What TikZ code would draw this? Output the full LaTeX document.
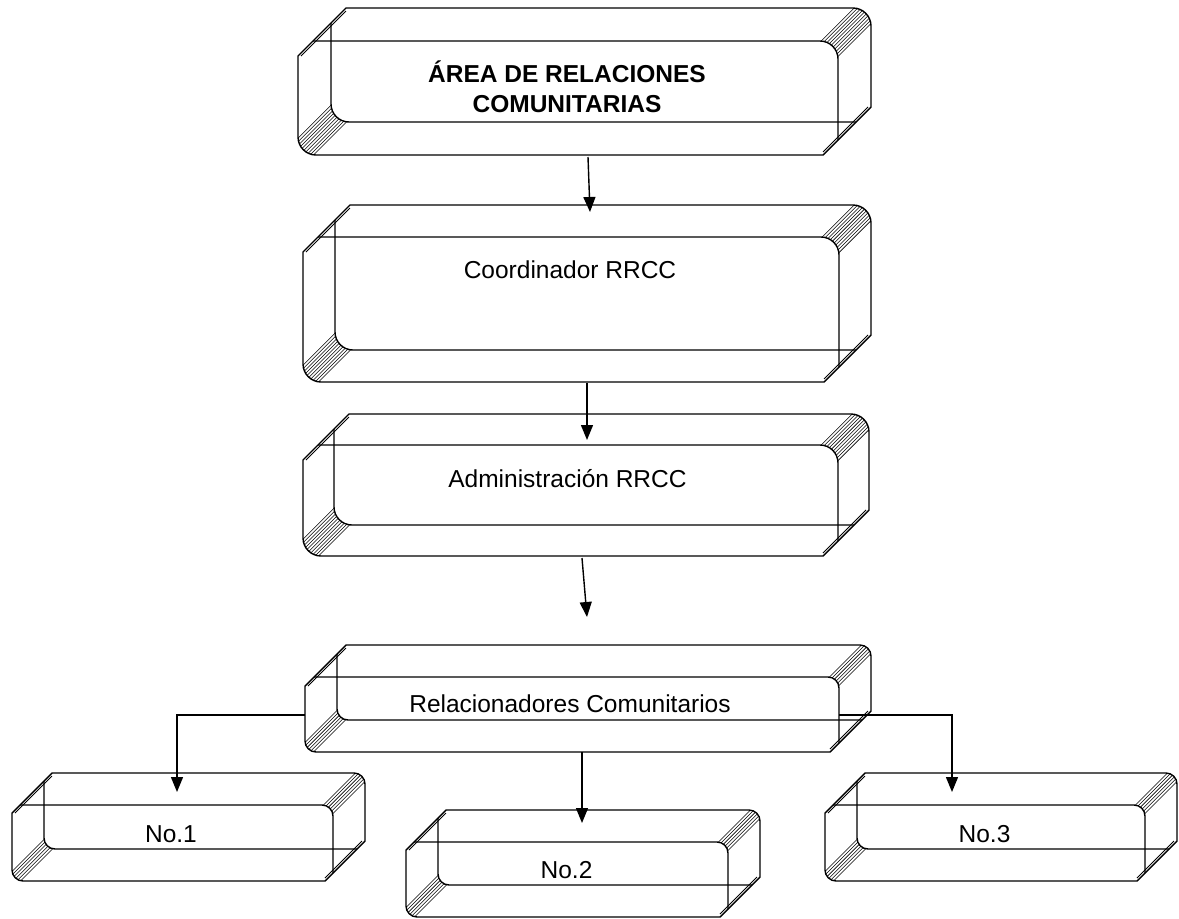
\documentclass[tikz,border=0pt]{standalone}
\usepackage{fontspec}
\setmainfont{Liberation Sans}
\usetikzlibrary{arrows.meta}

% Bevelled 3-D box: front face [x0,x1]x[y0,y1] (y grows downwards),
% back face shifted by (d,-d); r = corner radius, c = chamfer offset.
\newcommand\bevbox[7]{%
  \begin{scope}
    \pgfmathsetmacro\xA{#1}\pgfmathsetmacro\yA{#2}%
    \pgfmathsetmacro\xB{#3}\pgfmathsetmacro\yB{#4}%
    \pgfmathsetmacro\dd{#5}\pgfmathsetmacro\rr{#6}\pgfmathsetmacro\cc{#7}%
    \pgfmathsetmacro\kk{0.448*\rr}%
    % hatched band, top right corner
    \begin{scope}
      \clip ({\xB-\rr},\yA) .. controls ({\xB-\kk},\yA) and (\xB,{\yA+\kk}) .. (\xB,{\yA+\rr})
        -- ({\xB+\dd},{\yA-\dd+\rr})
        .. controls ({\xB+\dd},{\yA-\dd+\kk}) and ({\xB+\dd-\kk},{\yA-\dd}) .. ({\xB+\dd-\rr},{\yA-\dd})
        -- cycle;
      \foreach \t in {-12,-10.2,...,12}
        \draw[hatch] ({\xB-\rr+\t-60},{\yA+\rr+\t+60}) -- ({\xB-\rr+\t+60},{\yA+\rr+\t-60});
    \end{scope}
    % hatched band, bottom left corner
    \begin{scope}
      \clip (\xA,{\yB-\rr}) .. controls (\xA,{\yB-\kk}) and ({\xA+\kk},\yB) .. ({\xA+\rr},\yB)
        -- ({\xA+\dd+\rr},{\yB-\dd})
        .. controls ({\xA+\dd+\kk},{\yB-\dd}) and ({\xA+\dd},{\yB-\dd-\kk}) .. ({\xA+\dd},{\yB-\dd-\rr})
        -- cycle;
      \foreach \t in {-12,-10.2,...,12}
        \draw[hatch] ({\xA+\rr+\t-60},{\yB-\rr+\t+60}) -- ({\xA+\rr+\t+60},{\yB-\rr+\t-60});
    \end{scope}
    % outline
    \draw[edge] (\xA,{\yA+\cc}) -- ({\xA+\dd+\cc},{\yA-\dd})
      -- ({\xB+\dd-\rr},{\yA-\dd})
      .. controls ({\xB+\dd-\kk},{\yA-\dd}) and ({\xB+\dd},{\yA-\dd+\kk}) .. ({\xB+\dd},{\yA-\dd+\rr})
      -- ({\xB+\dd},{\yB-\dd-\cc}) -- ({\xB-\cc},\yB)
      -- ({\xA+\rr},\yB)
      .. controls ({\xA+\kk},\yB) and (\xA,{\yB-\kk}) .. (\xA,{\yB-\rr})
      -- cycle;
    % thin bevels on the two edge-on corners
    \draw[thinedge] ({\xA+3},{\yA+\cc}) -- ({\xA+\dd+\cc},{\yA-\dd+3});
    \draw[thinedge] ({\xB+\dd-3},{\yB-\dd-\cc}) -- ({\xB-\cc},{\yB-3});
    % front face: top and right edges
    \draw[edge] ({\xA+\cc},\yA) -- ({\xB-\rr},\yA)
      .. controls ({\xB-\kk},\yA) and (\xB,{\yA+\kk}) .. (\xB,{\yA+\rr})
      -- (\xB,{\yB-\cc});
    % back face: left and bottom edges
    \draw[edge] ({\xA+\dd},{\yA-\dd+\cc}) -- ({\xA+\dd},{\yB-\dd-\rr})
      .. controls ({\xA+\dd},{\yB-\dd-\kk}) and ({\xA+\dd+\kk},{\yB-\dd}) .. ({\xA+\dd+\rr},{\yB-\dd})
      -- ({\xB+\dd-\cc},{\yB-\dd});
  \end{scope}}

\begin{document}
\begin{tikzpicture}[x=1pt,y=-1pt,
  edge/.style={line width=1.4pt,line join=round},
  thinedge/.style={line width=1pt},
  hatch/.style={line width=0.55pt},
  label/.style={anchor=base,inner sep=0pt,font=\fontsize{24.5}{28}\selectfont},
  boldlabel/.style={label,font=\fontsize{24.5}{28}\selectfont\bfseries},
  link/.style={line width=1.4pt},
  arrowlink/.style={link,-{Triangle[width=12pt,length=15pt]}}]
  \useasboundingbox (0,0) rectangle (1179,919);

  % boxes
  \bevbox{298}{41}{838}{155}{33}{18}{15}
  \bevbox{303}{237}{839}{382}{32}{18}{15}
  \bevbox{303}{445}{838}{556}{31}{18}{15}
  \bevbox{305}{677}{839}{752}{32}{11}{9}
  \bevbox{12}{805}{333}{881}{32}{11}{8}
  \bevbox{406}{842}{728}{917}{32}{11}{8}
  \bevbox{825}{805}{1145}{881}{32}{11}{8}

  % labels
  \node[boldlabel] (areaA) at (567,82) {ÁREA DE RELACIONES};
  \node[boldlabel] (areaB) at (567,112) {COMUNITARIAS};
  \node[label] (coord) at (570,278) {Coordinador RRCC};
  \node[label] (admin) at (567.5,487) {Administración RRCC};
  \node[label] (rel) at (570,712) {Relacionadores Comunitarios};
  \node[label] (no1) at (171,842) {No.1};
  \node[label] (no2) at (566.5,878) {No.2};
  \node[label] (no3) at (984.5,842) {No.3};

  % connector end points
  \coordinate (areaOut) at (588,157);
  \coordinate (coordIn) at (590,212);
  \coordinate (coordOut) at (587,383);
  \coordinate (adminIn) at (587,440);
  \coordinate (adminOut) at (582,558);
  \coordinate (relIn) at (587,617);
  \coordinate (relLeft) at (305,715);
  \coordinate (relRight) at (839,715);
  \coordinate (relOut) at (582,752);
  \coordinate (noA) at (177,792);
  \coordinate (noB) at (582,823);
  \coordinate (noC) at (952,792);

  % connectors
  \draw[arrowlink] (areaOut) -- (coordIn);
  \draw[arrowlink] (coordOut) -- (adminIn);
  \draw[arrowlink] (adminOut) -- (relIn);
  \draw[arrowlink] (relLeft) -| (noA);
  \draw[arrowlink] (relOut) -- (noB);
  \draw[arrowlink] (relRight) -| (noC);
\end{tikzpicture}
\end{document}
